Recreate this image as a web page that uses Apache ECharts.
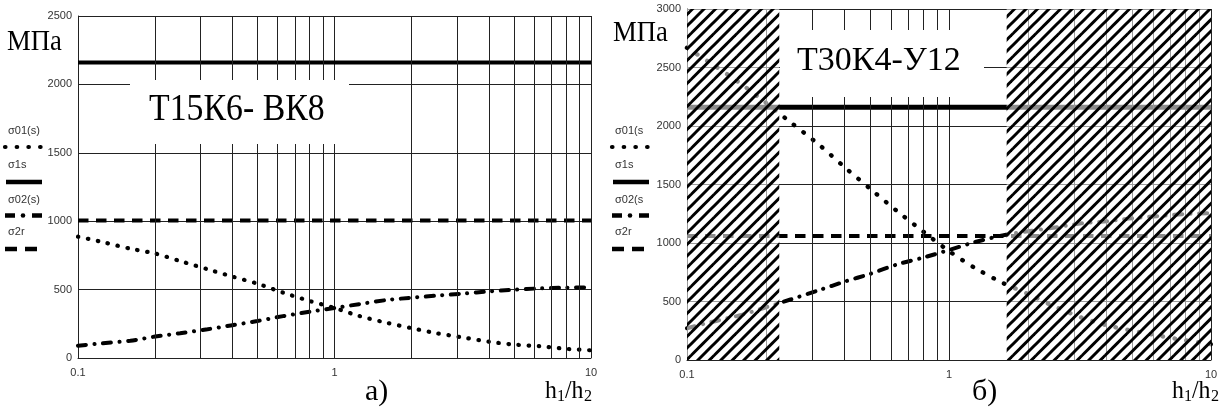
<!DOCTYPE html>
<html>
<head>
<meta charset="utf-8">
<script src="https://cdn.jsdelivr.net/npm/echarts@6/dist/echarts.min.js"></script>
<style>
html,body{margin:0;padding:0;background:#fff}
#main{width:1227px;height:412px}
</style>
</head>
<body>
<div id="main"></div>
<script>
// h1/h2 sample points (log spaced)
var hVals = [0.1, 0.125, 0.16, 0.2, 0.25, 0.32, 0.4, 0.5, 0.63, 0.8, 1, 1.25, 1.6, 2, 2.5, 3.2, 4, 5, 6.3, 8, 10];
var hEnds = [0.1, 10];

// а) Т15К6- ВК8
var s01a = [887, 847, 799, 764, 709, 649, 595, 544, 478, 417, 366, 307, 257, 218, 181, 149, 119, 98, 86, 67, 56];
var s02a = [90, 108, 126, 157, 181, 210, 240, 270, 306, 338, 366, 394, 424, 441, 456, 471, 487, 499, 509, 514, 517];
var s1a = [2160, 2160];
var s2ra = [1005, 1005];

// б) Т30К4-У12
var s01b = [2669, 2527, 2364, 2198, 2027, 1838, 1647, 1464, 1277, 1095, 931, 789, 660, 565, 462, 363, 297, 250, 208, 168, 135];
var s02b = [271, 327, 383, 450, 519, 598, 670, 736, 815, 876, 940, 1006, 1065, 1100, 1130, 1168, 1185, 1211, 1230, 1248, 1256];
var s1b = [2160, 2160];
var s2rb = [1060, 1060];

// hatched (excluded) ranges of h1/h2 on chart б)
var hatchB = [[0.1, 0.225], [1.66, 10]];

// log grid lines
var logGrid = [0.2, 0.3, 0.4, 0.5, 0.6, 0.7, 0.8, 0.9, 2, 3, 4, 5, 6, 7, 8, 9];

var yMaxA = 2500, yMaxB = 3000, yStep = 500;

function pairs(xs, ys) {
    var out = [];
    for (var i = 0; i < xs.length; i++) out.push([xs[i], ys[i]]);
    return out;
}

/* hatch pattern */
var hatch = document.createElement('canvas');
hatch.width = 23; hatch.height = 23;
(function () {
    var c = hatch.getContext('2d');
    c.fillStyle = 'rgba(255,255,255,0.55)';
    c.fillRect(0, 0, 23, 23);
    c.strokeStyle = '#000';
    c.lineWidth = 3;
    [0, 11.5, 23, 34.5, 46].forEach(function (k) {
        c.beginPath();
        c.moveTo(k + 5, -5);
        c.lineTo(-5, k + 5);
        c.stroke();
    });
})();

var FS = '"Liberation Sans", Arial, sans-serif';
var FT = '"Liberation Serif", "Times New Roman", serif';
var ink = '#000';
var gridCol = '#222';

function xAx(i) {
    return {
        type: 'log', logBase: 10, min: 0.1, max: 10, gridIndex: i,
        axisLine: {lineStyle: {color: gridCol, width: 1}},
        axisTick: {show: false},
        axisLabel: {color: '#333', fontSize: 11, fontFamily: FS, margin: 9,
            formatter: function (v) { return String(v); }},
        splitLine: {show: true, lineStyle: {color: gridCol, width: 1}}
    };
}
function yAx(i, max) {
    return {
        type: 'value', min: 0, max: max, interval: yStep, gridIndex: i,
        axisLine: {show: true, lineStyle: {color: gridCol, width: 1}},
        axisTick: {show: false},
        axisLabel: {color: '#333', fontSize: 11, fontFamily: FS, margin: 6,
            formatter: function (v) { return String(v); }},
        splitLine: {show: true, lineStyle: {color: gridCol, width: 1}}
    };
}

var dotStyle = {color: ink, width: 4.2, type: [0.5, 9.6], cap: 'round'};
var dashDot = {color: ink, width: 4, type: [8, 8.5, 0.1, 8.5], cap: 'round'};
var dashStyle = {color: ink, width: 4.2, type: [10.5, 7.5], cap: 'butt'};

function lineS(i, data, style, extra) {
    var s = {
        type: 'line', xAxisIndex: i, yAxisIndex: i, data: data,
        showSymbol: false, symbol: 'none', smooth: 0.25, z: 3,
        lineStyle: style, silent: true
    };
    if (extra) for (var k in extra) s[k] = extra[k];
    return s;
}
function gridLines() {
    return {
        silent: true, symbol: ['none', 'none'], label: {show: false},
        lineStyle: {color: gridCol, width: 1, type: 'solid'},
        data: logGrid.map(function (v) { return {xAxis: v}; })
    };
}

/* graphic helpers */
function txt(x, y, s, font, sx) {
    return {type: 'text', x: x, y: y, z: 101, scaleX: sx || 1,
        style: {text: s, font: font, fill: '#000', textAlign: 'left', textVerticalAlign: 'middle'}};
}
function ltxt(x, y, s) {
    return {type: 'text', x: x, y: y, z: 101,
        style: {text: s, font: '11px ' + FS, fill: '#333', textAlign: 'left', textVerticalAlign: 'middle'}};
}
function seg(x1, y, x2, w, dash, cap) {
    return {type: 'line', z: 101, shape: {x1: x1, y1: y, x2: x2, y2: y},
        style: {stroke: '#000', lineWidth: w, lineDash: dash || null, lineCap: cap || 'butt'}};
}
function legend(dx, l1, l3) {
    return [
        ltxt(8 + dx, 131, l1),
        seg(5 + dx, 147, 42 + dx, 4.2, [0.5, 11.2], 'round'),
        ltxt(8 + dx, 165, 'σ1s'),
        seg(6 + dx, 182, 42 + dx, 4.5),
        ltxt(8 + dx, 200, l3),
        seg(5 + dx, 215.5, 15 + dx, 4.5),
        {type: 'circle', z: 101, shape: {cx: 23 + dx, cy: 215.5, r: 2.3}, style: {fill: '#000'}},
        seg(32 + dx, 215.5, 42 + dx, 4.5),
        ltxt(8 + dx, 232, 'σ2r'),
        seg(5 + dx, 249, 17 + dx, 4.5),
        seg(25 + dx, 249, 37 + dx, 4.5)
    ];
}
function ratio(x, y) {
    return [
        txt(x, y, 'h', '25px ' + FT, 0.95),
        txt(x + 12, y + 6, '1', '17px ' + FT, 0.95),
        txt(x + 20, y, '/h', '25px ' + FT, 0.95),
        txt(x + 39, y + 6, '2', '17px ' + FT, 0.95)
    ];
}

var graphics = []
    .concat([
        {type: 'rect', z: 100, shape: {x: 130, y: 80, width: 219, height: 64}, style: {fill: '#fff'}},
        txt(149, 110.5, 'Т15К6- ВК8', '38px ' + FT, 0.89),
        txt(7, 42.5, 'МПа', '29px ' + FT, 0.92),
        txt(365, 392, 'а)', '30px ' + FT, 1),
        {type: 'rect', z: 100, shape: {x: 780, y: 30, width: 204, height: 67}, style: {fill: '#fff'}},
        txt(797, 61.5, 'Т30К4-У12', '34px ' + FT, 1),
        txt(613, 33.5, 'МПа', '29px ' + FT, 0.92),
        txt(972, 392, 'б)', '30px ' + FT, 1)
    ])
    .concat(ratio(545, 391))
    .concat(ratio(1172, 391))
    .concat(legend(0, 'σ01(s)', 'σ02(s)'))
    .concat(legend(607, 'σ01(s', 'σ02(s'));

var chart = echarts.init(document.getElementById('main'), null, {renderer: 'canvas'});
var option = {
    animation: false,
    backgroundColor: '#fff',
    grid: [
        {left: 78, top: 16, width: 513, height: 342, containLabel: false, outerBoundsMode: 'none'},
        {left: 687, top: 9, width: 524, height: 351, containLabel: false, outerBoundsMode: 'none'}
    ],
    xAxis: [xAx(0), xAx(1)],
    yAxis: [yAx(0, yMaxA), yAx(1, yMaxB)],
    series: [
        lineS(0, pairs(hEnds, s1a), {color: ink, width: 4, type: 'solid'}, {smooth: false, markLine: gridLines()}),
        lineS(0, pairs(hEnds, s2ra), dashStyle, {smooth: false}),
        lineS(0, pairs(hVals, s01a), dotStyle),
        lineS(0, pairs(hVals, s02a), dashDot),

        lineS(1, pairs(hEnds, s1b), {color: ink, width: 5, type: 'solid'}, {smooth: false, markLine: gridLines()}),
        lineS(1, pairs(hEnds, s2rb), dashStyle, {smooth: false}),
        lineS(1, pairs(hVals, s01b), {color: ink, width: 4.4, type: [0.5, 11.5], cap: 'round'}),
        lineS(1, pairs(hVals, s02b), dashDot),
        {
            type: 'custom', xAxisIndex: 1, yAxisIndex: 1, data: hatchB, z: 6, silent: true,
            renderItem: function (params, api) {
                var p0 = api.coord([api.value(0), yMaxB]);
                var p1 = api.coord([api.value(1), 0]);
                return {
                    type: 'rect',
                    shape: {x: p0[0], y: p0[1], width: p1[0] - p0[0], height: p1[1] - p0[1]},
                    style: {fill: {image: hatch, repeat: 'repeat'}}
                };
            }
        }
    ],
    graphic: graphics
};
chart.setOption(option);
</script>
</body>
</html>
